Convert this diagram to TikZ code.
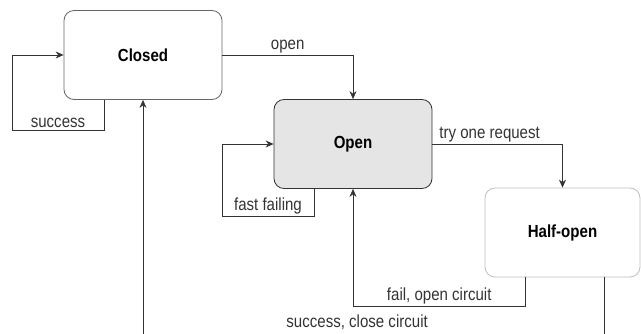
\documentclass[tikz,border=0pt]{standalone}
\usepackage{fontspec}
\setmainfont{Liberation Sans}[FakeStretch=0.86]
\usetikzlibrary{arrows.meta}

\tikzset{
    state/.style={draw, rounded corners=10pt, minimum width=158pt, minimum height=89pt,
        font=\fontsize{17.5}{20}\selectfont\bfseries, line width=0.8pt},
    flow/.style={draw=black!80, line width=0.7pt, -{Stealth[length=8pt,width=7pt]}},
    lbl/.style={font=\fontsize{17.5}{20}\selectfont, text=black!80, inner sep=1.5pt}
}

\begin{document}
\begin{tikzpicture}[x=1pt,y=-1pt]
        \useasboundingbox (0,0) rectangle (641,334);
        \clip (0,0) rectangle (641,334);

        % States
        \node[state, draw=black!60] (closed) at (143,55) {Closed};
        \node[state, draw=black!80, fill=black!10] (open) at (353,144) {Open};
        \node[state, draw=black!25, minimum width=155pt] (half) at (562.5,232.5) {Half-open};

        % Corner points of the loops
        \coordinate (sloop) at (12,130);
        \coordinate (floop) at (222,216);
        \coordinate (fail) at (353,306);
        \coordinate (back) at (143,342);

        % Self loops
        \draw[flow] ([xshift=-39pt]closed.south) |- (sloop) node[lbl, pos=0.75, above] {success} |- (closed.west);
        \draw[flow] ([xshift=-39pt]open.south) |- (floop) node[lbl, pos=0.75, above] {fast failing} |- (open.west);

        % Transitions
        \draw[flow] (closed.east) -| (open.north) node[lbl, pos=0.25, above] {open};
        \draw[flow] (open.east) -| (half.north) node[lbl, pos=0.22, above] {try one request};
        \draw[flow] ([xshift=-37pt]half.south) |- (fail) node[lbl, pos=0.75, above] {fail, open circuit} -- (open.south);
        \draw[flow] ([xshift=42pt]half.south) |- (back) node[lbl, pos=0.768, above=10pt] {success, close circuit} -- (closed.south);

    \end{tikzpicture}
\end{document}
